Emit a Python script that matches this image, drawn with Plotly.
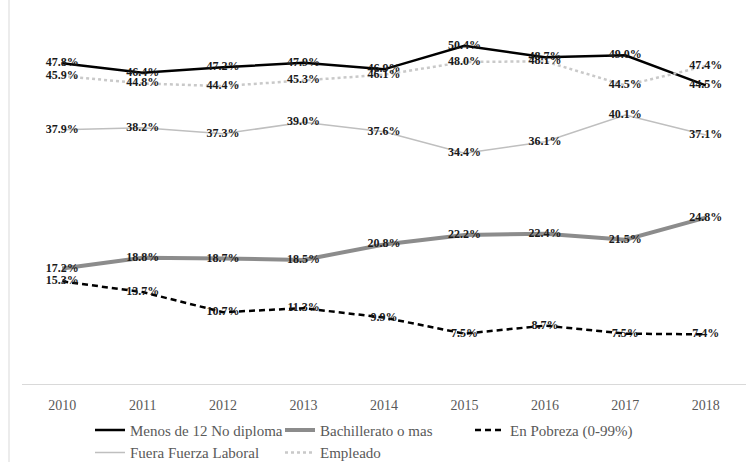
import plotly.graph_objects as go

years = ["2010", "2011", "2012", "2013", "2014", "2015", "2016", "2017", "2018"]

menos_12 = [47.8, 46.4, 47.2, 47.9, 46.9, 50.4, 48.7, 49.0, 44.5]
bachillerato = [17.2, 18.8, 18.7, 18.5, 20.8, 22.2, 22.4, 21.5, 24.8]
pobreza = [15.3, 13.7, 10.7, 11.3, 9.9, 7.5, 8.7, 7.5, 7.4]
fuera_laboral = [37.9, 38.2, 37.3, 39.0, 37.6, 34.4, 36.1, 40.1, 37.1]
empleado = [45.9, 44.8, 44.4, 45.3, 46.1, 48.0, 48.1, 44.5, 47.4]

SERIF = "Liberation Serif, Times New Roman, serif"

series = [
    ("Menos de 12 No diploma", menos_12, dict(color="#000000", width=2.5, dash="solid")),
    ("Bachillerato o mas", bachillerato, dict(color="#8c8c8c", width=4, dash="solid")),
    ("En Pobreza (0-99%)", pobreza, dict(color="#000000", width=2.5, dash="6px,4px")),
    ("Fuera Fuerza Laboral", fuera_laboral, dict(color="#bfbfbf", width=1.5, dash="solid")),
    ("Empleado", empleado, dict(color="#c9c9c9", width=2.5, dash="dot")),
]

fig = go.Figure()
for name, values, line in series:
    fig.add_trace(go.Scatter(
        x=years, y=values, name=name, mode="lines+text",
        line=line,
        texttemplate="%{y:.1f}%",
        textposition="middle center",
        textfont=dict(family=SERIF, size=12, color="#1a1a1a", weight="bold"),
        hoverinfo="skip",
    ))

fig.update_layout(
    width=750, height=462,
    margin=dict(l=22, r=4, t=15, b=78, autoexpand=False),
    paper_bgcolor="white", plot_bgcolor="white",
    showlegend=True,
    legend=dict(
        orientation="h",
        xref="container", yref="container",
        x=0.12, xanchor="left",
        y=0.045, yanchor="middle",
        entrywidth=145, entrywidthmode="pixels",
        itemwidth=30,
        font=dict(family=SERIF, size=15, color="#595959"),
        traceorder="normal",
        tracegroupgap=0,
    ),
    xaxis=dict(
        type="category", range=[-0.5, 8.5],
        showgrid=False, zeroline=False,
        showline=True, linecolor="#d9d9d9", linewidth=1,
        ticks="", ticklabelstandoff=8,
        tickfont=dict(family=SERIF, size=14, color="#595959"),
    ),
    yaxis=dict(
        range=[0, 55], visible=False, showgrid=False, zeroline=False,
    ),
    shapes=[dict(
        type="line", xref="paper", yref="paper",
        x0=-13 / 724, x1=-13 / 724, y0=-0.22, y1=1.05,
        line=dict(color="#d9d9d9", width=1),
    )],
)

fig.write_html("out.html")
